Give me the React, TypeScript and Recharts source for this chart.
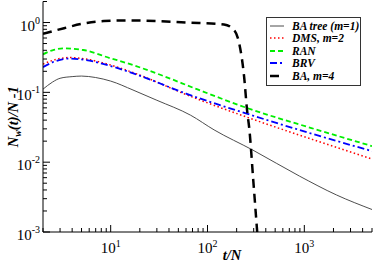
import React from "react";
import { LineChart, Line, XAxis, YAxis, Legend } from "recharts";

// values (t/N vs N_w(t)/N - 1)
const tBaTree = [2, 2.5, 3, 4, 5, 7, 10, 17, 30, 67, 117, 294, 894, 2140, 5000];
const nwBaTree = [0.111, 0.14, 0.159, 0.168, 0.171, 0.163, 0.145, 0.108, 0.077, 0.047, 0.029, 0.0149, 0.0063, 0.0034, 0.0021];

const tDms = [2, 2.7, 3.7, 5.5, 10, 20.5, 60, 282, 1183, 5000];
const nwDms = [0.254, 0.295, 0.315, 0.3, 0.246, 0.174, 0.093, 0.042, 0.0214, 0.0111];

const tRan = [2, 2.5, 3.3, 5.2, 10, 15, 33, 79, 282, 1183, 5000];
const nwRan = [0.35, 0.4, 0.427, 0.404, 0.307, 0.26, 0.177, 0.11, 0.057, 0.0308, 0.017];

const tBrv = [2, 2.7, 3.7, 5.5, 10, 20.5, 60, 282, 1183, 5000];
const nwBrv = [0.23, 0.28, 0.305, 0.29, 0.238, 0.171, 0.096, 0.0473, 0.0257, 0.0144];

const tBaM4 = [2, 3.3, 4.9, 8.5, 16, 63, 148, 188, 212, 239, 256, 271, 297, 326];
const nwBaM4 = [0.69, 0.83, 0.95, 1.05, 1.07, 1.0, 0.94, 0.78, 0.51, 0.166, 0.056, 0.029, 0.0055, 0.001];

const legendOrder = ["BA tree (m=1)", "DMS, m=2", "RAN", "BRV", "BA, m=4"];

const xTicks = [
  2, 3, 4, 5, 6, 7, 8, 9,
  10, 20, 30, 40, 50, 60, 70, 80, 90,
  100, 200, 300, 400, 500, 600, 700, 800, 900,
  1000, 2000, 3000, 4000, 5000
];
const yTicks = [
  0.001, 0.002, 0.003, 0.004, 0.005, 0.006, 0.007, 0.008, 0.009,
  0.01, 0.02, 0.03, 0.04, 0.05, 0.06, 0.07, 0.08, 0.09,
  0.1, 0.2, 0.3, 0.4, 0.5, 0.6, 0.7, 0.8, 0.9,
  1, 2
];

const serif = "Liberation Serif, Times New Roman, serif";

function toPoints(t: number[], nw: number[]) {
  return t.map((value, i) => ({ t: value, nw: nw[i] }));
}

function isMajor(v: number) {
  const l = Math.log10(v);
  return Math.abs(l - Math.round(l)) < 1e-6;
}

function Tick(props: any) {
  const { x, y, payload, side } = props;
  const v = payload.value;
  const major = isMajor(v);
  const len = major ? 7 : 4;
  const exp = Math.round(Math.log10(v));
  let line;
  if (side === "bottom") line = <line x1={x} x2={x} y1={y} y2={y - len} stroke="#000" />;
  else if (side === "top") line = <line x1={x} x2={x} y1={y} y2={y + len} stroke="#000" />;
  else if (side === "left") line = <line x1={x} x2={x + len} y1={y} y2={y} stroke="#000" />;
  else line = <line x1={x} x2={x - len} y1={y} y2={y} stroke="#000" />;

  let label = null;
  if (major && side === "bottom") {
    label = (
      <text x={x} y={y + 20.5} textAnchor="middle" style={{ fontFamily: serif }} fontSize={15} fill="#000">
        10<tspan dy={-6} fontSize={10}>{exp}</tspan>
      </text>
    );
  } else if (major && side === "left") {
    label = (
      <text x={x - 3} y={y + 8} textAnchor="end" style={{ fontFamily: serif }} fontSize={15} fill="#000">
        10<tspan dy={-7} fontSize={10}>{exp}</tspan>
      </text>
    );
  }
  return (
    <g>
      {line}
      {label}
    </g>
  );
}

function LegendBox({ payload }: any) {
  const items = [...(payload || [])].sort(
    (a: any, b: any) => legendOrder.indexOf(a.value) - legendOrder.indexOf(b.value)
  );
  return (
    <div
      style={{
        border: "1px solid #333",
        background: "#fff",
        padding: "2px 0 3px 3px",
        width: 90,
        fontFamily: serif,
        fontStyle: "italic",
        fontWeight: "bold",
        fontSize: 11.5,
        lineHeight: "12.5px",
        color: "#000"
      }}
    >
      {items.map((entry: any) => (
        <div key={entry.value} style={{ display: "flex", alignItems: "center", height: 12.5 }}>
          <svg width={14} height={8} style={{ marginRight: 8 }}>
            <line
              x1={0}
              x2={14}
              y1={4}
              y2={4}
              stroke={entry.color}
              strokeWidth={entry.payload?.strokeWidth ?? 1}
              strokeDasharray={entry.payload?.strokeDasharray}
            />
          </svg>
          <span style={{ whiteSpace: "nowrap" }}>{entry.value}</span>
        </div>
      ))}
    </div>
  );
}

export default function App() {
  return (
    <div style={{ width: 374, height: 265, background: "#fff", fontFamily: serif }}>
      <style>{`body{margin:0}`}</style>
      <LineChart width={374} height={265} margin={{ top: 1.5, right: 2, left: 0, bottom: 0 }}>
        <XAxis
          dataKey="t"
          type="number"
          scale="log"
          domain={[2, 5000]}
          allowDataOverflow
          ticks={xTicks}
          interval={0}
          height={33}
          tickSize={0}
          tickMargin={0}
          tickLine={false}
          axisLine={{ stroke: "#000" }}
          tick={(p: any) => <Tick {...p} side="bottom" />}
          label={{
            content: ({ viewBox }: any) => (
              <text
                x={viewBox.x + 189}
                y={viewBox.y + 28}
                textAnchor="middle"
                style={{ fontFamily: serif, fontStyle: "italic", fontWeight: "bold" }}
                fontSize={14.5}
                fill="#000"
              >
                t/N
              </text>
            )
          }}
        />
        <XAxis
          xAxisId="top"
          orientation="top"
          dataKey="t"
          type="number"
          scale="log"
          domain={[2, 5000]}
          allowDataOverflow
          ticks={xTicks}
          interval={0}
          height={0}
          tickSize={0}
          tickMargin={0}
          tickLine={false}
          axisLine={{ stroke: "#000" }}
          tick={(p: any) => <Tick {...p} side="top" />}
        />
        <YAxis
          type="number"
          scale="log"
          domain={[0.001, 2]}
          allowDataOverflow
          ticks={yTicks}
          interval={0}
          width={43}
          tickSize={0}
          tickMargin={0}
          tickLine={false}
          axisLine={{ stroke: "#000" }}
          tick={(p: any) => <Tick {...p} side="left" />}
          label={{
            content: ({ viewBox }: any) => {
              const cx = viewBox.x + 18;
              const cy = viewBox.y + viewBox.height / 2;
              return (
                <text
                  x={cx}
                  y={cy}
                  transform={`rotate(-90 ${cx} ${cy})`}
                  textAnchor="middle"
                  style={{ fontFamily: serif, fontStyle: "italic", fontWeight: "bold" }}
                  fontSize={14.5}
                  fill="#000"
                >
                  N<tspan dy={3} fontSize={10}>w</tspan>
                  <tspan dy={-3}>(t)/N -1</tspan>
                </text>
              );
            }
          }}
        />
        <YAxis
          yAxisId="right"
          orientation="right"
          type="number"
          scale="log"
          domain={[0.001, 2]}
          allowDataOverflow
          ticks={yTicks}
          interval={0}
          width={0}
          tickSize={0}
          tickMargin={0}
          tickLine={false}
          axisLine={{ stroke: "#000" }}
          tick={(p: any) => <Tick {...p} side="right" />}
        />
        <Legend
          layout="vertical"
          align="center"
          verticalAlign="middle"
          content={<LegendBox />}
          wrapperStyle={{ left: 266, top: 16.5, width: 96, height: 70 }}
        />
        <Line
          data={toPoints(tBaTree, nwBaTree)}
          dataKey="nw"
          name="BA tree (m=1)"
          type="monotone"
          stroke="#4d4d4d"
          strokeWidth={1}
          dot={false}
          isAnimationActive={false}
        />
        <Line
          data={toPoints(tDms, nwDms)}
          dataKey="nw"
          name="DMS, m=2"
          type="monotone"
          stroke="#ff0000"
          strokeWidth={1.5}
          strokeDasharray="1.5 2.5"
          dot={false}
          isAnimationActive={false}
        />
        <Line
          data={toPoints(tRan, nwRan)}
          dataKey="nw"
          name="RAN"
          type="monotone"
          stroke="#00ee00"
          strokeWidth={1.8}
          strokeDasharray="5 3"
          dot={false}
          isAnimationActive={false}
        />
        <Line
          data={toPoints(tBrv, nwBrv)}
          dataKey="nw"
          name="BRV"
          type="monotone"
          stroke="#0000ff"
          strokeWidth={1.8}
          strokeDasharray="7 3 2 3"
          dot={false}
          isAnimationActive={false}
        />
        <Line
          data={toPoints(tBaM4, nwBaM4)}
          dataKey="nw"
          name="BA, m=4"
          type="monotone"
          stroke="#000000"
          strokeWidth={2.5}
          strokeDasharray="9 6"
          dot={false}
          isAnimationActive={false}
        />
      </LineChart>
    </div>
  );
}
